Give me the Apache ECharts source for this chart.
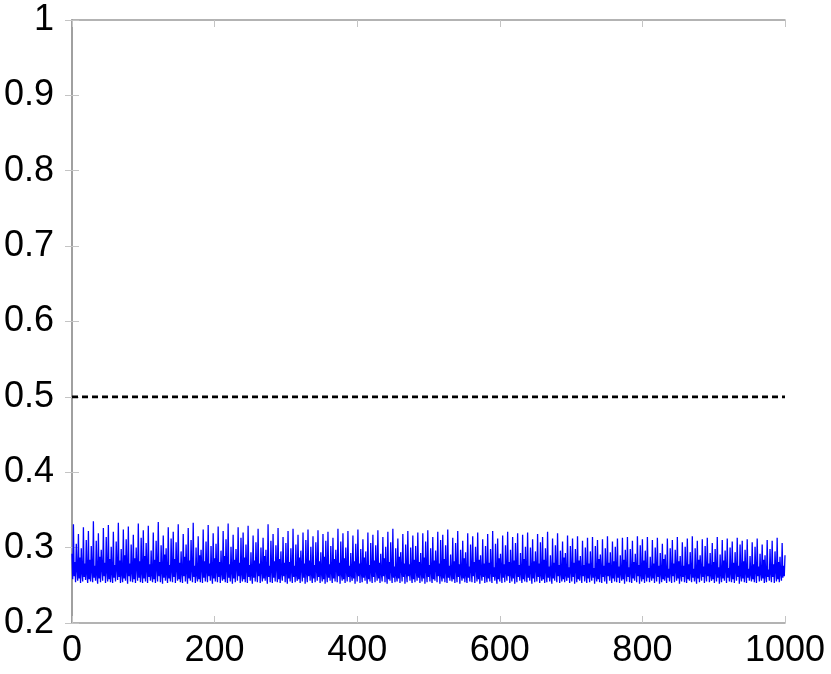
<!DOCTYPE html>
<html>
<head>
<meta charset="utf-8">
<script src="https://cdn.jsdelivr.net/npm/echarts@6/dist/echarts.min.js"></script>
<style>
  html, body { margin: 0; padding: 0; background: #fff; }
  #chart { width: 831px; height: 674px; }
</style>
</head>
<body>
<div id="chart"></div>
<script>
// x runs 0..1000, one value per step
const xTicks = [0, 200, 400, 600, 800, 1000]
const yTicks = [0.2, 0.3, 0.4, 0.5, 0.6, 0.7, 0.8, 0.9, 1]
const thresholdY = 0.5

const blueValues = [
  0.292,0.258,0.331,0.262,0.281,0.254,0.305,0.270,0.256,0.318,0.259,0.287,0.253,0.299,0.266,0.255,0.327,0.261,0.279,0.257,
  0.310,0.264,0.253,0.322,0.258,0.284,0.255,0.302,0.268,0.254,0.335,0.260,0.276,0.256,0.309,0.263,0.252,0.319,0.259,0.288,
  0.254,0.297,0.271,0.256,0.326,0.262,0.280,0.253,0.314,0.267,0.255,0.330,0.258,0.285,0.254,0.301,0.265,0.253,0.321,0.260,
  0.277,0.255,0.308,0.270,0.257,0.333,0.261,0.283,0.253,0.298,0.264,0.254,0.324,0.259,0.290,0.256,0.311,0.268,0.252,0.328,
  0.262,0.279,0.255,0.304,0.266,0.254,0.317,0.258,0.286,0.253,0.300,0.272,0.256,0.332,0.260,0.282,0.254,0.313,0.265,0.253,
  0.323,0.259,0.289,0.255,0.306,0.269,0.253,0.329,0.261,0.278,0.256,0.296,0.263,0.254,0.320,0.258,0.284,0.253,0.309,0.271,
  0.255,0.334,0.262,0.281,0.254,0.303,0.267,0.252,0.316,0.260,0.291,0.256,0.299,0.264,0.253,0.327,0.259,0.277,0.255,0.312,
  0.268,0.254,0.321,0.261,0.285,0.253,0.307,0.270,0.256,0.331,0.258,0.280,0.254,0.295,0.265,0.253,0.318,0.262,0.288,0.255,
  0.304,0.266,0.252,0.326,0.259,0.283,0.256,0.310,0.269,0.254,0.333,0.261,0.276,0.253,0.300,0.263,0.255,0.315,0.258,0.290,
  0.254,0.297,0.271,0.253,0.324,0.260,0.282,0.255,0.308,0.267,0.254,0.330,0.262,0.279,0.256,0.302,0.264,0.252,0.319,0.259,
  0.286,0.255,0.305,0.268,0.254,0.328,0.261,0.281,0.253,0.296,0.265,0.256,0.322,0.258,0.289,0.254,0.311,0.270,0.253,0.332,
  0.260,0.278,0.255,0.301,0.266,0.252,0.317,0.259,0.284,0.254,0.298,0.272,0.256,0.327,0.262,0.280,0.253,0.313,0.264,0.255,
  0.320,0.258,0.287,0.254,0.304,0.269,0.253,0.329,0.261,0.277,0.256,0.294,0.263,0.252,0.316,0.260,0.283,0.255,0.307,0.270,
  0.254,0.325,0.262,0.279,0.253,0.300,0.267,0.255,0.313,0.259,0.289,0.256,0.297,0.264,0.252,0.331,0.261,0.276,0.254,0.309,
  0.268,0.253,0.318,0.260,0.282,0.255,0.303,0.271,0.254,0.326,0.258,0.285,0.253,0.295,0.265,0.256,0.314,0.262,0.280,0.254,
  0.306,0.266,0.252,0.322,0.259,0.281,0.255,0.299,0.268,0.253,0.325,0.261,0.276,0.254,0.304,0.263,0.256,0.317,0.258,0.287,
  0.253,0.296,0.270,0.255,0.320,0.260,0.279,0.252,0.310,0.266,0.254,0.324,0.262,0.283,0.256,0.301,0.264,0.253,0.315,0.259,
  0.277,0.254,0.307,0.269,0.256,0.323,0.261,0.282,0.253,0.294,0.265,0.255,0.318,0.258,0.288,0.252,0.309,0.267,0.254,0.321,
  0.260,0.278,0.256,0.302,0.266,0.253,0.313,0.259,0.285,0.255,0.297,0.271,0.254,0.325,0.262,0.280,0.252,0.308,0.264,0.256,
  0.319,0.258,0.286,0.253,0.300,0.268,0.255,0.322,0.261,0.276,0.254,0.293,0.263,0.256,0.316,0.259,0.282,0.252,0.305,0.270,
  0.255,0.324,0.262,0.279,0.253,0.298,0.266,0.254,0.311,0.260,0.287,0.256,0.295,0.264,0.252,0.320,0.258,0.277,0.255,0.306,
  0.267,0.253,0.317,0.261,0.283,0.254,0.303,0.269,0.256,0.323,0.259,0.280,0.253,0.292,0.265,0.255,0.314,0.262,0.286,0.254,
  0.301,0.266,0.252,0.321,0.258,0.281,0.256,0.307,0.268,0.253,0.325,0.260,0.275,0.254,0.299,0.263,0.255,0.312,0.259,0.288,
  0.253,0.294,0.270,0.255,0.318,0.261,0.279,0.252,0.304,0.267,0.254,0.322,0.262,0.278,0.256,0.300,0.264,0.253,0.316,0.258,
  0.284,0.254,0.302,0.268,0.256,0.320,0.260,0.281,0.253,0.293,0.265,0.255,0.319,0.259,0.287,0.252,0.308,0.269,0.254,0.323,
  0.261,0.277,0.255,0.299,0.266,0.253,0.314,0.258,0.283,0.256,0.296,0.271,0.254,0.321,0.262,0.279,0.252,0.310,0.263,0.255,
  0.317,0.259,0.285,0.254,0.303,0.267,0.253,0.324,0.260,0.276,0.256,0.291,0.264,0.255,0.313,0.258,0.282,0.253,0.306,0.269,
  0.254,0.322,0.261,0.278,0.252,0.297,0.265,0.256,0.309,0.259,0.286,0.254,0.294,0.263,0.253,0.319,0.260,0.275,0.255,0.304,
  0.268,0.254,0.315,0.262,0.281,0.253,0.301,0.270,0.255,0.320,0.258,0.284,0.252,0.290,0.266,0.256,0.311,0.261,0.279,0.253,
  0.302,0.264,0.254,0.318,0.259,0.280,0.255,0.298,0.267,0.253,0.322,0.261,0.274,0.256,0.305,0.262,0.252,0.312,0.258,0.286,
  0.255,0.292,0.269,0.253,0.316,0.260,0.278,0.254,0.303,0.266,0.256,0.321,0.262,0.281,0.253,0.297,0.264,0.255,0.314,0.259,
  0.283,0.252,0.306,0.268,0.254,0.319,0.261,0.277,0.256,0.293,0.265,0.253,0.317,0.258,0.285,0.255,0.301,0.267,0.254,0.320,
  0.260,0.276,0.256,0.300,0.266,0.252,0.311,0.259,0.282,0.254,0.295,0.270,0.255,0.318,0.261,0.279,0.253,0.307,0.263,0.256,
  0.314,0.258,0.284,0.253,0.299,0.268,0.254,0.321,0.260,0.275,0.255,0.290,0.264,0.252,0.312,0.259,0.280,0.256,0.303,0.269,
  0.254,0.319,0.262,0.277,0.253,0.296,0.265,0.255,0.308,0.258,0.287,0.254,0.293,0.263,0.256,0.316,0.260,0.274,0.253,0.302,
  0.267,0.255,0.312,0.261,0.280,0.252,0.298,0.269,0.254,0.315,0.258,0.283,0.256,0.289,0.265,0.253,0.309,0.262,0.277,0.255,
  0.300,0.264,0.253,0.313,0.259,0.279,0.254,0.295,0.266,0.256,0.314,0.260,0.273,0.252,0.302,0.263,0.255,0.310,0.258,0.285,
  0.254,0.291,0.268,0.253,0.311,0.261,0.276,0.255,0.299,0.265,0.252,0.315,0.262,0.280,0.256,0.294,0.264,0.253,0.308,0.259,
  0.282,0.255,0.301,0.267,0.254,0.312,0.260,0.275,0.253,0.290,0.265,0.256,0.313,0.258,0.284,0.252,0.297,0.268,0.255,0.314,
  0.261,0.274,0.254,0.298,0.266,0.253,0.309,0.259,0.281,0.256,0.292,0.269,0.254,0.315,0.262,0.277,0.252,0.303,0.263,0.255,
  0.311,0.258,0.283,0.253,0.296,0.267,0.255,0.314,0.260,0.273,0.254,0.288,0.264,0.256,0.310,0.259,0.279,0.253,0.300,0.268,
  0.255,0.313,0.261,0.276,0.252,0.293,0.265,0.254,0.305,0.258,0.285,0.256,0.291,0.263,0.253,0.312,0.260,0.272,0.255,0.299,
  0.266,0.253,0.310,0.262,0.279,0.254,0.297,0.268,0.256,0.314,0.259,0.282,0.252,0.289,0.264,0.255,0.307,0.261,0.276,0.254,
  0.301,0.265,0.253,0.312,0.258,0.278,0.256,0.294,0.267,0.254,0.315,0.260,0.272,0.255,0.299,0.262,0.252,0.309,0.259,0.284,
  0.254,0.290,0.268,0.256,0.311,0.261,0.275,0.253,0.302,0.266,0.255,0.313,0.262,0.279,0.254,0.293,0.263,0.256,0.306,0.258,
  0.281,0.253,0.298,0.267,0.255,0.314,0.260,0.274,0.252,0.291,0.264,0.254,0.310,0.259,0.283,0.256,0.296,0.269,0.253,0.312,
  0.260,0.273,0.255,0.300,0.265,0.254,0.308,0.258,0.280,0.253,0.294,0.268,0.256,0.313,0.261,0.276,0.252,0.304,0.263,0.255,
  0.309,0.259,0.282,0.254,0.297,0.266,0.253,0.311,0.260,0.272,0.256,0.289,0.264,0.255,0.307,0.258,0.278,0.254,0.301,0.267,
  0.253,0.312,0.262,0.275,0.255,0.292,0.265,0.256,0.304,0.259,0.284,0.253,0.290,0.263,0.254,0.310,0.261,0.271,0.256,0.298,
  0.265,0.254,0.309,0.261,0.278,0.253,0.295,0.268,0.255,0.313,0.258,0.281,0.254,0.288,0.264,0.256,0.306,0.260,0.276,0.262,
  0.290
]

const frameColor = '#9a9a9a'
const tickColor = '#c4c4c4'
const labelFont = { color: '#000', fontSize: 36, fontFamily: 'Liberation Sans, sans-serif' }

const chart = echarts.init(document.getElementById('chart'))

const option = {
  animation: false,
  backgroundColor: '#fff',
  grid: { left: 72, right: 46, top: 20, bottom: 51, outerBoundsMode: 'none' },
  xAxis: [
    {
      type: 'value', min: xTicks[0], max: xTicks[xTicks.length - 1], interval: 200,
      axisLine: { lineStyle: { color: frameColor, width: 1.5 } },
      axisTick: { inside: true, length: 7, lineStyle: { color: tickColor } },
      axisLabel: { ...labelFont, margin: 10, formatter: v => String(v) },
      splitLine: { show: false },
    },
    {
      type: 'value', position: 'top', min: xTicks[0], max: xTicks[xTicks.length - 1], interval: 200,
      axisLine: { show: true, lineStyle: { color: frameColor, width: 1.5 } },
      axisTick: { inside: true, length: 7, lineStyle: { color: tickColor } },
      axisLabel: { show: false },
      splitLine: { show: false },
    },
  ],
  yAxis: [
    {
      type: 'value', min: yTicks[0], max: yTicks[yTicks.length - 1], interval: 0.1,
      axisLine: { show: true, lineStyle: { color: frameColor, width: 1.5 } },
      axisTick: { show: true, inside: true, length: 7, lineStyle: { color: tickColor } },
      axisLabel: { ...labelFont, margin: 18, formatter: v => String(+v.toFixed(1)) },
      splitLine: { show: false },
    },
    {
      type: 'value', position: 'right', min: yTicks[0], max: yTicks[yTicks.length - 1], interval: 0.1,
      axisLine: { show: true, lineStyle: { color: frameColor, width: 1.5 } },
      axisTick: { show: true, inside: true, length: 7, lineStyle: { color: tickColor } },
      axisLabel: { show: false },
      splitLine: { show: false },
    },
  ],
  series: [
    {
      type: 'line',
      data: blueValues.map((v, i) => [i, v]),
      symbol: 'none',
      silent: true,
      lineStyle: { color: '#0000ff', width: 1.3 },
    },
    {
      type: 'line',
      data: [[xTicks[0], thresholdY], [xTicks[xTicks.length - 1], thresholdY]],
      symbol: 'none',
      silent: true,
      lineStyle: { color: '#000', width: 2.6, type: [6, 4] },
    },
  ],
}

chart.setOption(option)
window.addEventListener('resize', () => chart.resize())
</script>
</body>
</html>
